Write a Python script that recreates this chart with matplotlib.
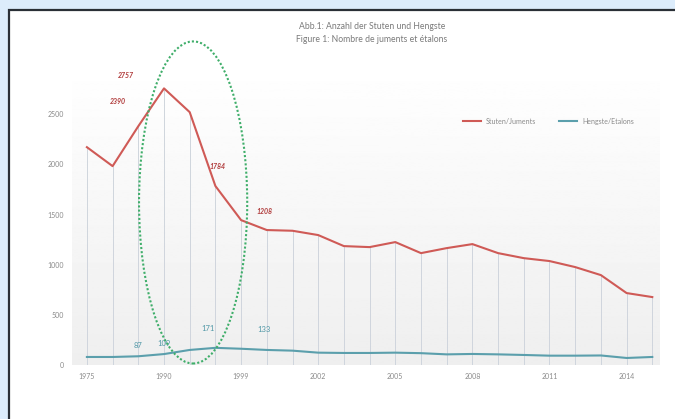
import numpy as np
import matplotlib
matplotlib.use("Agg")
import matplotlib.pyplot as plt
from matplotlib.patches import Ellipse, Rectangle

plt.rcParams['font.family'] = ['Lato', 'DejaVu Sans']

# data
years = ['1975', '1980', '1985', '1990', '1993', '1996', '1999', '2000', '2001', '2002',
         '2003', '2004', '2005', '2006', '2007', '2008', '2009', '2010', '2011', '2012',
         '2013', '2014', '2015']
stuten = [2171, 1982, 2380, 2757, 2520, 1784, 1444, 1345, 1338, 1295,
          1185, 1175, 1225, 1115, 1165, 1205, 1115, 1065, 1036, 976,
          896, 717, 677]
hengste = [80, 80, 87, 109, 150, 171, 162, 150, 143, 123,
           120, 120, 123, 118, 106, 110, 106, 100, 93, 93,
           95, 70, 80]
shown_years = ['1975', '1990', '1999', '2002', '2005', '2008', '2011', '2014']

# value labels (index, text)
red_labels = [(3, '2757'), (2, '2390'), (5, '1784'), (6, '1208')]
teal_labels = [(2, '87'), (3, '109'), (5, '171'), (7, '133')]

red = '#cf5a56'
teal = '#5b9fac'

fig = plt.figure(figsize=(6.75, 4.19), dpi=100)
fig.patch.set_facecolor('#dcecfb')
# white panel with dark border (left/top visible)
fig.patches.append(Rectangle((9 / 675, -0.05), 1.0, 0.05 + 409 / 419,
                             transform=fig.transFigure, facecolor='white',
                             edgecolor='#2a2f36', linewidth=1.6, zorder=-5))

ax = fig.add_axes([72 / 675, 54 / 419, 588 / 675, 301 / 419])
ax.set_facecolor('none')
x = np.arange(len(years))

# soft gray gradient behind the plot
grad = np.linspace(0.935, 1.0, 256).reshape(-1, 1)
ax.imshow(grad, extent=[0, 1, 0, 1], transform=ax.transAxes, origin='lower',
          cmap='gray', vmin=0, vmax=1, aspect='auto', zorder=0)

ax.vlines(x, 0, stuten, color='#cfd5dd', linewidth=0.7, zorder=1)
ax.plot(x, stuten, color=red, linewidth=1.5, label='Stuten/Juments', zorder=3)
ax.plot(x, hengste, color=teal, linewidth=1.5, label='Hengste/Etalons', zorder=3)

for i, t in red_labels:
    off = {3: (-38, 13), 2: (-20, 25), 5: (2, 20), 6: (23, 9)}[i]
    ax.annotate(t, (x[i], stuten[i]), xytext=(off[0] * 0.72, off[1] * 0.72),
                textcoords='offset points', ha='center', va='center',
                fontsize=5, color='#b03a3a', fontweight='bold', fontstyle='italic')
for i, t in teal_labels:
    off = {2: (0, 11), 3: (0, 11), 5: (-7, 19), 7: (-3, 20)}[i]
    ax.annotate(t, (x[i], hengste[i]), xytext=(off[0] * 0.72, off[1] * 0.72),
                textcoords='offset points', ha='center', va='center',
                fontsize=5.5, color='#4f97a6')

# highlight ellipse
ax.add_patch(Ellipse((0.206, 0.54), 0.184, 1.07, transform=ax.transAxes,
                     fill=False, edgecolor='#3fae6a', linestyle=(0, (1, 1)),
                     linewidth=1.5, clip_on=False, zorder=4))

ax.set_xlim(-0.58, 22.3)
ax.set_ylim(0, 3000)
ticks = [years.index(y) for y in shown_years]
ax.set_xticks(ticks)
ax.set_xticklabels(shown_years)
ax.set_yticks([0, 500, 1000, 1500, 2000, 2500])
ax.tick_params(length=0, labelsize=5, colors='#8a8a8a', pad=6)
for s in ax.spines.values():
    s.set_visible(False)

ax.legend(loc='center', bbox_to_anchor=(0.81, 0.81), ncol=2, frameon=False,
          fontsize=5, handlelength=2.6, columnspacing=3.2, labelcolor='#8a8a8a')

fig.text(0.551, 0.936, 'Abb.1: Anzahl der Stuten und Hengste', ha='center',
         va='center', fontsize=6.2, color='#7a7a7a')
fig.text(0.551, 0.905, 'Figure 1: Nombre de juments et étalons', ha='center',
         va='center', fontsize=6.2, color='#7a7a7a')

fig.savefig('out.png', dpi=100, facecolor=fig.get_facecolor())
